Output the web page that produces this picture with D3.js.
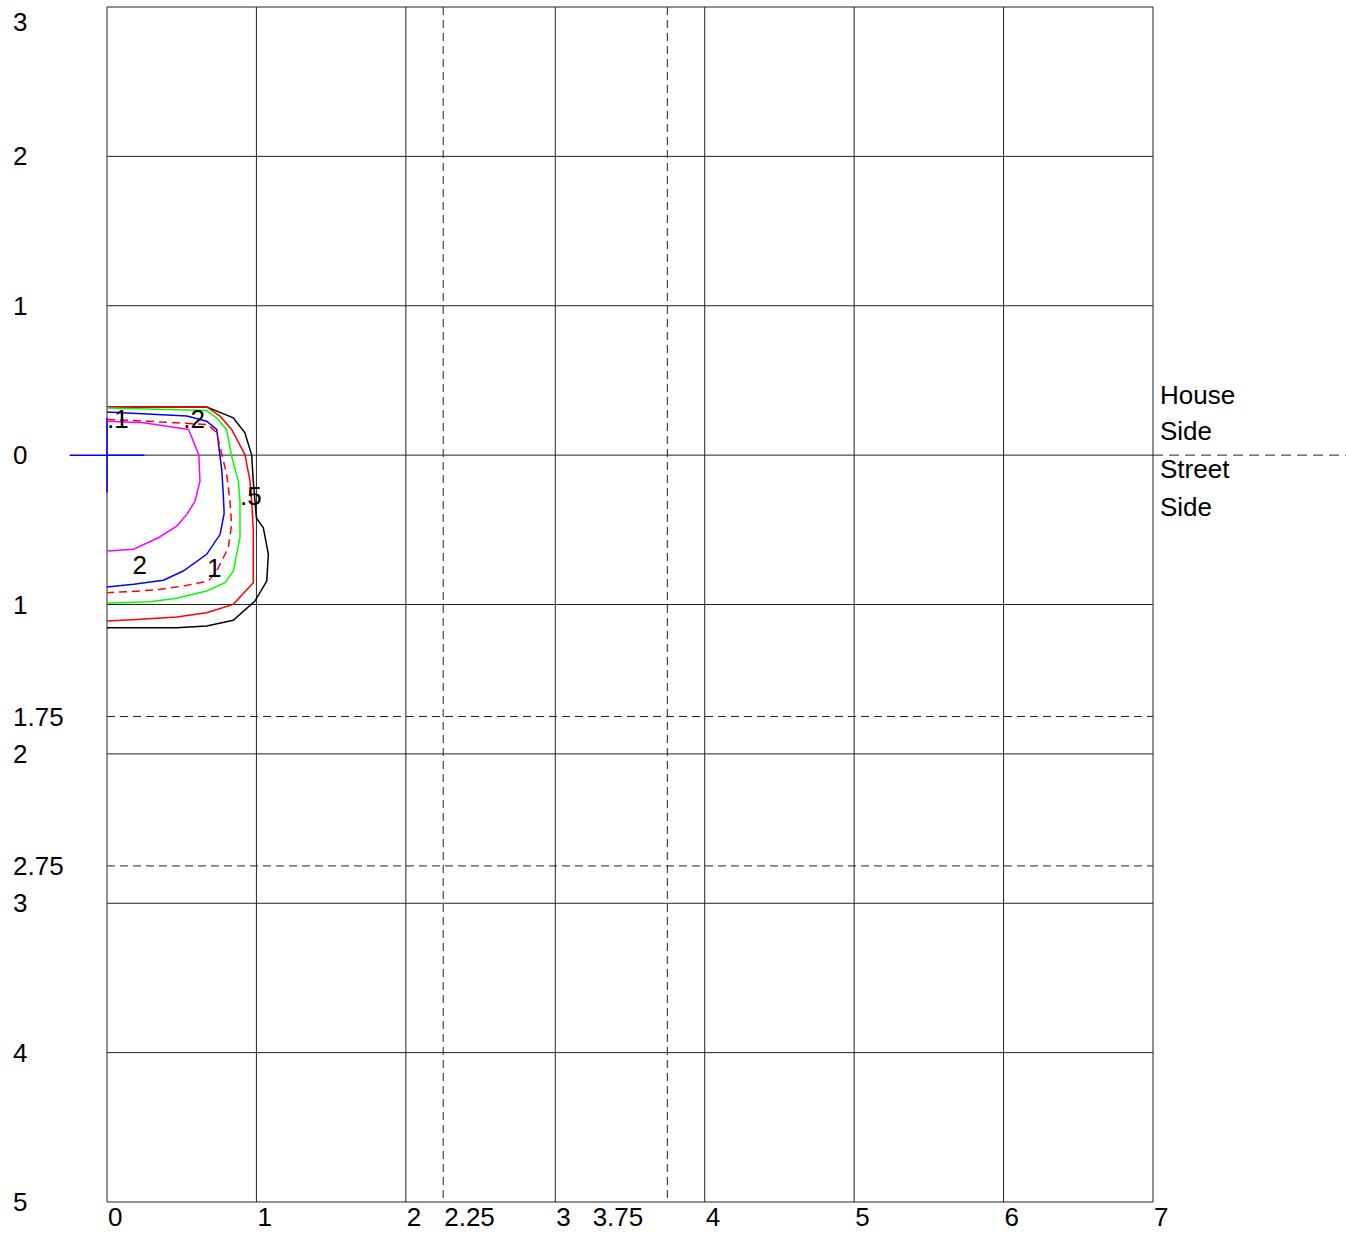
<!DOCTYPE html>
<html>
<head>
<meta charset="utf-8">
<script src="https://cdn.jsdelivr.net/npm/d3@7"></script>
<style>
  body { margin: 0; background: #fff; }
  text { font-family: "Liberation Sans", Arial, sans-serif; font-size: 26px; fill: #000; }
</style>
</head>
<body>
<div id="chart"></div>
<script>
// grid and tick values (y: negative = house side, positive = street side)
var xTicks = [0, 1, 2, 2.25, 3, 3.75, 4, 5, 6, 7];
var xGrid = [0, 1, 2, 3, 4, 5, 6, 7];
var xDashed = [2.25, 3.75];
var yTicks = [-3, -2, -1, 0, 1, 1.75, 2, 2.75, 3, 4, 5];
var yGrid = [-3, -2, -1, 0, 1, 2, 3, 4, 5];
var yDashed = [1.75, 2.75];
var sideLabels = ["House", "Side", "Street", "Side"];

// contour lines, [x, y] pairs
var blackLine = [[0,-0.323],[0.667,-0.323],[0.845,-0.25],[0.923,-0.149],[0.968,0],[0.979,0.174],[0.99,0.308],[1.0,0.42],[1.046,0.486],[1.08,0.664],[1.069,0.843],[0.99,0.977],[0.845,1.106],[0.667,1.144],[0.466,1.155],[0,1.155]];
var redLine = [[0,-0.323],[0.667,-0.323],[0.756,-0.261],[0.834,-0.172],[0.923,-0.004],[0.957,0.174],[0.968,0.308],[0.979,0.5],[0.979,0.854],[0.845,0.999],[0.667,1.055],[0.466,1.084],[0.199,1.1],[0,1.11]];
var greenLine = [[0,-0.316],[0.667,-0.298],[0.734,-0.249],[0.8,-0.172],[0.834,0.007],[0.879,0.174],[0.89,0.308],[0.89,0.553],[0.845,0.776],[0.79,0.854],[0.667,0.91],[0.466,0.958],[0.288,0.981],[0,0.992]];
var blueLine = [[0,-0.288],[0.535,-0.262],[0.667,-0.227],[0.734,-0.172],[0.768,0.1],[0.778,0.26],[0.784,0.39],[0.757,0.53],[0.667,0.664],[0.51,0.776],[0.377,0.838],[0.178,0.865],[0,0.883]];
var dashedLine = [[0,-0.239],[0.245,-0.228],[0.677,-0.205],[0.734,-0.149],[0.801,0.129],[0.823,0.308],[0.834,0.464],[0.812,0.62],[0.778,0.687],[0.734,0.776],[0.678,0.843],[0.511,0.876],[0.355,0.898],[0.221,0.91],[0,0.921]];
var magentaLine = [[0,-0.227],[0.243,-0.216],[0.546,-0.172],[0.615,0],[0.622,0.174],[0.589,0.308],[0.534,0.397],[0.467,0.475],[0.344,0.553],[0.178,0.63],[0,0.642]];
var contourLabels = [[".1",0.0,-0.24],[".2",0.51,-0.24],[".5",0.89,0.27],["2",0.17,0.735],["1",0.67,0.755]];

var W = 1346, H = 1235;
var x = d3.scaleLinear().domain([0, 7]).range([107, 1153]);
var y = d3.scaleLinear().domain([-3, 5]).range([7, 1202]);
var gridColor = "#222";

var svg = d3.select("#chart").append("svg")
    .attr("width", W).attr("height", H);

// solid grid
svg.selectAll(".vgrid").data(xGrid).enter().append("line")
    .attr("x1", d => x(d)).attr("x2", d => x(d))
    .attr("y1", y(-3)).attr("y2", y(5))
    .attr("stroke", gridColor).attr("stroke-width", 1);
svg.selectAll(".hgrid").data(yGrid).enter().append("line")
    .attr("x1", x(0)).attr("x2", x(7))
    .attr("y1", d => y(d)).attr("y2", d => y(d))
    .attr("stroke", gridColor).attr("stroke-width", 1);

// dashed reference lines
svg.selectAll(".vdash").data(xDashed).enter().append("line")
    .attr("x1", d => x(d)).attr("x2", d => x(d))
    .attr("y1", y(-3)).attr("y2", y(5))
    .attr("stroke", gridColor).attr("stroke-dasharray", "8,5");
svg.selectAll(".hdash").data(yDashed).enter().append("line")
    .attr("x1", x(0)).attr("x2", x(7))
    .attr("y1", d => y(d)).attr("y2", d => y(d))
    .attr("stroke", gridColor).attr("stroke-dasharray", "8,5");
// house / street divider past the right edge
svg.append("line")
    .attr("x1", x(7)).attr("x2", W)
    .attr("y1", y(0)).attr("y2", y(0))
    .attr("stroke", gridColor).attr("stroke-dasharray", "10,6");

// tick labels; 3.75 sits left of its tick so it does not run into 4
svg.selectAll(".xlab").data(xTicks).enter().append("text")
    .attr("x", d => d === 3.75 ? x(3.25) : x(d) + 1)
    .attr("y", 1226)
    .text(d => d);
svg.selectAll(".ylab").data(yTicks).enter().append("text")
    .attr("x", 13)
    .attr("y", d => Math.max(y(d), 22))
    .attr("dy", "0.35em")
    .text(d => Math.abs(d));
svg.selectAll(".side").data(sideLabels).enter().append("text")
    .attr("x", 1160)
    .attr("y", (d, i) => [395, 431, 469, 507][i])
    .attr("dy", "0.35em")
    .text(d => d);

// origin marker
svg.append("line").attr("x1", x(-0.25)).attr("x2", x(0.25))
    .attr("y1", y(0)).attr("y2", y(0)).attr("stroke", "#00f").attr("stroke-width", 1.5);
svg.append("line").attr("x1", x(0)).attr("x2", x(0))
    .attr("y1", y(-0.25)).attr("y2", y(0.25)).attr("stroke", "#00f").attr("stroke-width", 1.5);

// contours
var line = d3.line().x(d => x(d[0])).y(d => y(d[1]));
var series = [
  {pts: blackLine, color: "#000"},
  {pts: redLine, color: "#f00"},
  {pts: greenLine, color: "#0f0"},
  {pts: blueLine, color: "#00f"},
  {pts: dashedLine, color: "#f00", dash: "8,5"},
  {pts: magentaLine, color: "#f0f"}
];
svg.selectAll(".contour").data(series).enter().append("path")
    .attr("d", d => line(d.pts))
    .attr("fill", "none")
    .attr("stroke", d => d.color)
    .attr("stroke-width", 1.5)
    .attr("stroke-dasharray", d => d.dash || null);

svg.selectAll(".clab").data(contourLabels).enter().append("text")
    .attr("x", d => x(d[1]))
    .attr("y", d => y(d[2]))
    .attr("dy", "0.35em")
    .text(d => d[0]);
</script>
</body>
</html>
